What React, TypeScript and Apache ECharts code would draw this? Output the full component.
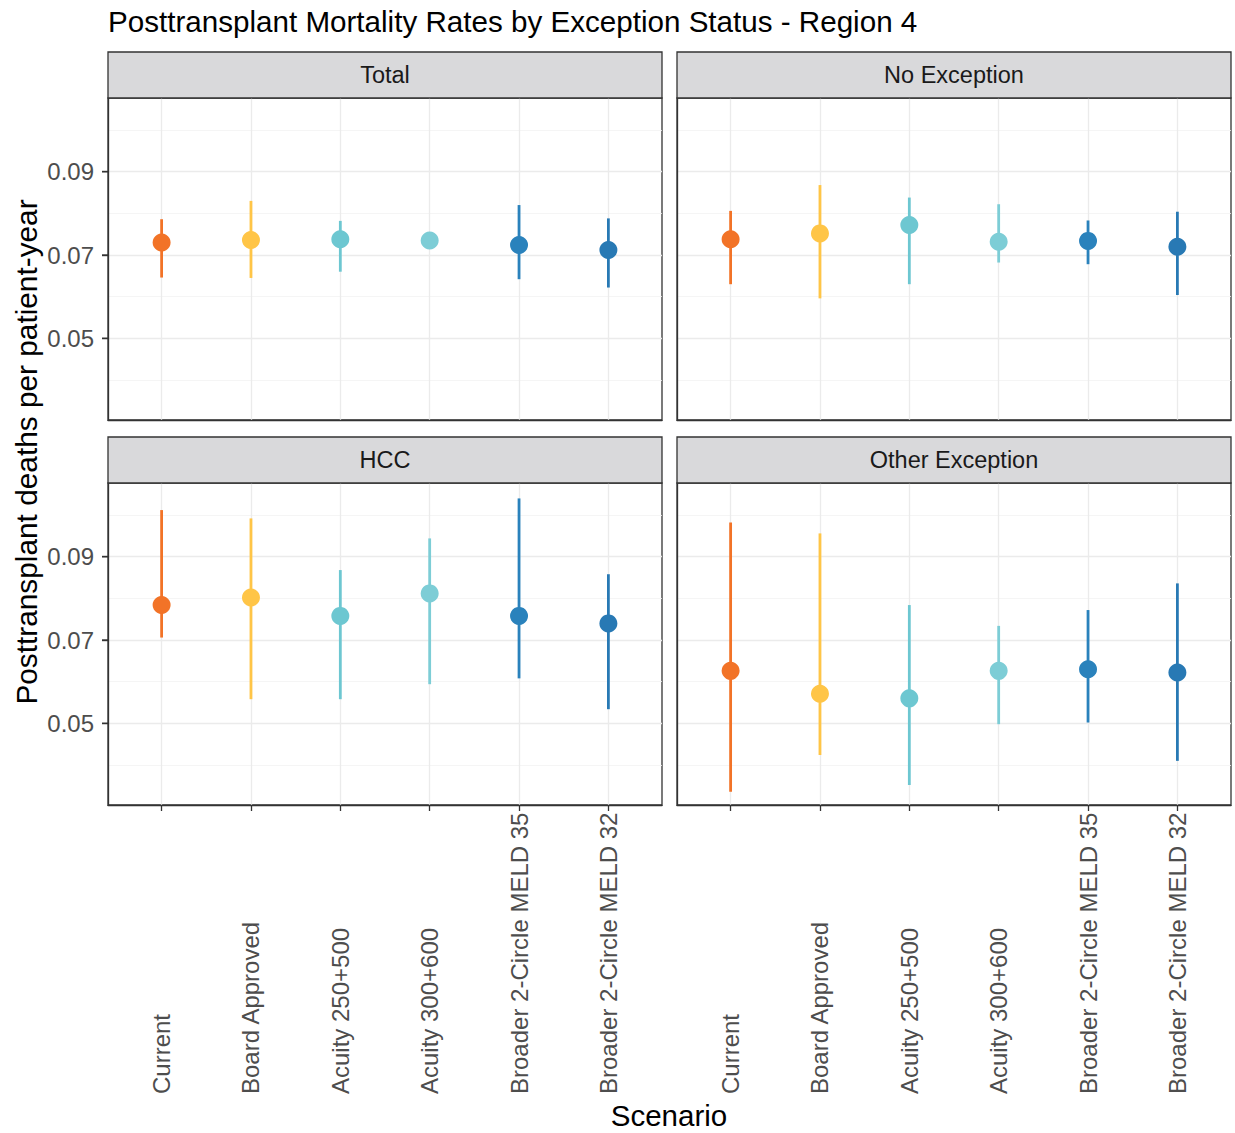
import React, { useEffect, useRef } from "react";
import * as echarts from "echarts";

const scenarios = [
  "Current",
  "Board Approved",
  "Acuity 250+500",
  "Acuity 300+600",
  "Broader 2-Circle MELD 35",
  "Broader 2-Circle MELD 32",
];
const panelNames = ["Total", "No Exception", "HCC", "Other Exception"];
const colors = ["#F27327", "#FFC547", "#6DC7D1", "#7DCDD6", "#2A82BC", "#2879B4"];

const yMajor = [0.05, 0.07, 0.09];
const yMinor = [0.04, 0.06, 0.08, 0.1];

const totalEst = [0.073, 0.0736, 0.0738, 0.0735, 0.0724, 0.0712];
const totalLo = [0.0646, 0.0645, 0.066, 0.0718, 0.0642, 0.0622];
const totalHi = [0.0786, 0.083, 0.0782, 0.0752, 0.082, 0.0788];

const noExcEst = [0.0738, 0.0752, 0.0772, 0.0732, 0.0734, 0.072];
const noExcLo = [0.063, 0.0596, 0.063, 0.0682, 0.0678, 0.0604];
const noExcHi = [0.0806, 0.0868, 0.0838, 0.0822, 0.0783, 0.0804];

const hccEst = [0.0784, 0.0802, 0.0758, 0.0812, 0.0758, 0.074];
const hccLo = [0.0706, 0.0558, 0.0558, 0.0594, 0.0608, 0.0534];
const hccHi = [0.1012, 0.0992, 0.0868, 0.0944, 0.104, 0.0858];

const otherEst = [0.0626, 0.0571, 0.056, 0.0626, 0.063, 0.0622];
const otherLo = [0.0336, 0.0424, 0.0352, 0.0498, 0.0502, 0.041];
const otherHi = [0.0982, 0.0956, 0.0784, 0.0734, 0.0772, 0.0836];

const panelData = [
  { est: totalEst, lo: totalLo, hi: totalHi },
  { est: noExcEst, lo: noExcLo, hi: noExcHi },
  { est: hccEst, lo: hccLo, hi: hccHi },
  { est: otherEst, lo: otherLo, hi: otherHi },
];

const FONT = "Liberation Sans, Arial, sans-serif";

export default function App() {
  const ref = useRef<HTMLDivElement>(null);

  useEffect(() => {
    if (!ref.current) return;
    const chart = echarts.init(ref.current, null, { renderer: "svg" });

    const layout = [
      { left: 108, top: 98 },
      { left: 677, top: 98 },
      { left: 108, top: 483 },
      { left: 677, top: 483 },
    ];
    const W = 554;
    const H = 322;
    const STRIP = 46;
    const idx = scenarios.map((_, i) => i);

    const grids = layout.map((l) => ({
      left: l.left,
      top: l.top,
      width: W,
      height: H,
      show: true,
      backgroundColor: "#ffffff",
      borderColor: "#333333",
      borderWidth: 1.3,
      containLabel: false,
    }));

    const xAxes = layout.map((_, i) => {
      const bottom = i >= 2;
      return {
        type: "value",
        gridIndex: i,
        position: "bottom",
        min: -0.6,
        max: 5.6,
        splitLine: { show: false },
        axisLine: {
          show: true,
          onZero: false,
          lineStyle: { color: "#333333", width: 1.3 },
        },
        axisTick: {
          show: bottom,
          customValues: idx,
          length: 6,
          lineStyle: { color: "#333333", width: 1.3 },
        },
        axisLabel: {
          show: bottom,
          customValues: idx,
          rotate: 90,
          align: "left",
          verticalAlign: "middle",
          margin: 289,
          fontSize: 24,
          fontFamily: FONT,
          color: "#4D4D4D",
          formatter: (v: number) => scenarios[Math.round(v)] ?? "",
        },
      };
    });

    const yAxes = layout.map((_, i) => {
      const leftCol = i % 2 === 0;
      return {
        type: "value",
        gridIndex: i,
        position: "left",
        min: 0.0304,
        max: 0.1077,
        splitLine: { show: false },
        axisLine: {
          show: true,
          onZero: false,
          lineStyle: { color: "#333333", width: 1.3 },
        },
        axisTick: {
          show: leftCol,
          customValues: yMajor,
          length: 6,
          lineStyle: { color: "#333333", width: 1.4 },
        },
        axisLabel: {
          show: leftCol,
          customValues: yMajor,
          margin: 14,
          fontSize: 24,
          fontFamily: FONT,
          color: "#4D4D4D",
          formatter: (v: number) => v.toFixed(2),
        },
      };
    });

    const series: any[] = [];
    panelData.forEach((p, i) => {
      series.push({
        type: "line",
        xAxisIndex: i,
        yAxisIndex: i,
        data: [],
        z: 0,
        silent: true,
        showSymbol: false,
        markLine: {
          z: 0,
          silent: true,
          symbol: ["none", "none"],
          label: { show: false },
          emphasis: { disabled: true },
          animation: false,
          data: [
            ...yMinor.map((v) => ({
              yAxis: v,
              lineStyle: { color: "#F2F2F2", width: 0.8, type: "solid" },
            })),
            ...yMajor.map((v) => ({
              yAxis: v,
              lineStyle: { color: "#EBEBEB", width: 1.3, type: "solid" },
            })),
            ...idx.map((v) => ({
              xAxis: v,
              lineStyle: { color: "#EBEBEB", width: 1.3, type: "solid" },
            })),
          ],
        },
      });
      series.push({
        type: "custom",
        xAxisIndex: i,
        yAxisIndex: i,
        z: 5,
        silent: true,
        data: idx.map((k) => [k, p.lo[k], p.hi[k]]),
        encode: { x: 0, y: [1, 2] },
        renderItem: (params: any, api: any) => {
          const x = api.value(0);
          const a = api.coord([x, api.value(1)]);
          const b = api.coord([x, api.value(2)]);
          return {
            type: "line",
            shape: { x1: a[0], y1: a[1], x2: b[0], y2: b[1] },
            style: { stroke: colors[params.dataIndex], lineWidth: 2.8 },
          };
        },
      });
      series.push({
        type: "scatter",
        xAxisIndex: i,
        yAxisIndex: i,
        z: 6,
        silent: true,
        symbol: "circle",
        symbolSize: 18,
        data: idx.map((k) => [k, p.est[k]]),
        itemStyle: {
          color: (prm: any) => colors[prm.dataIndex],
          opacity: 1,
        },
      });
    });

    const graphics: any[] = [];
    layout.forEach((l, i) => {
      graphics.push({
        type: "rect",
        shape: { x: l.left, y: l.top - STRIP, width: W, height: STRIP },
        style: { fill: "#D9D9DB", stroke: "#333333", lineWidth: 1.3 },
        z: 10,
      });
      graphics.push({
        type: "text",
        x: l.left + W / 2,
        y: l.top - STRIP / 2,
        style: {
          text: panelNames[i],
          fontSize: 23.5,
          fontFamily: FONT,
          fill: "#1A1A1A",
          textAlign: "center",
          textVerticalAlign: "middle",
        },
        z: 11,
      });
    });
    graphics.push({
      type: "text",
      x: 108,
      y: 21,
      style: {
        text: "Posttransplant Mortality Rates by Exception Status - Region 4",
        fontSize: 29.6,
        fontFamily: FONT,
        fill: "#000000",
        textAlign: "left",
        textVerticalAlign: "middle",
      },
    });
    graphics.push({
      type: "text",
      x: 26,
      y: 452,
      rotation: Math.PI / 2,
      style: {
        text: "Posttransplant deaths per patient-year",
        fontSize: 29.8,
        fontFamily: FONT,
        fill: "#000000",
        textAlign: "center",
        textVerticalAlign: "middle",
      },
    });
    graphics.push({
      type: "text",
      x: 669,
      y: 1115,
      style: {
        text: "Scenario",
        fontSize: 29.5,
        fontFamily: FONT,
        fill: "#000000",
        textAlign: "center",
        textVerticalAlign: "middle",
      },
    });

    chart.setOption({
      animation: false,
      backgroundColor: "#ffffff",
      grid: grids,
      xAxis: xAxes,
      yAxis: yAxes,
      series,
      graphic: graphics,
    });

    // y-axis tick marks drawn from the y scale (axisTick may be hidden by the label gap)
    const tickGraphics: any[] = [];
    [0, 2].forEach((gi) => {
      yMajor.forEach((v) => {
        const py = chart.convertToPixel({ yAxisIndex: gi }, v) as number;
        const px = layout[gi].left;
        tickGraphics.push({
          type: "line",
          shape: { x1: px - 6, y1: py, x2: px, y2: py },
          style: { stroke: "#333333", lineWidth: 1.4 },
          z: 12,
        });
      });
    });
    chart.setOption({ graphic: [...graphics, ...tickGraphics] });

    return () => {
      chart.dispose();
    };
  }, []);

  return (
    <div
      ref={ref}
      style={{
        position: "fixed",
        left: 0,
        top: 0,
        width: 1235,
        height: 1133,
        background: "#ffffff",
      }}
    />
  );
}
